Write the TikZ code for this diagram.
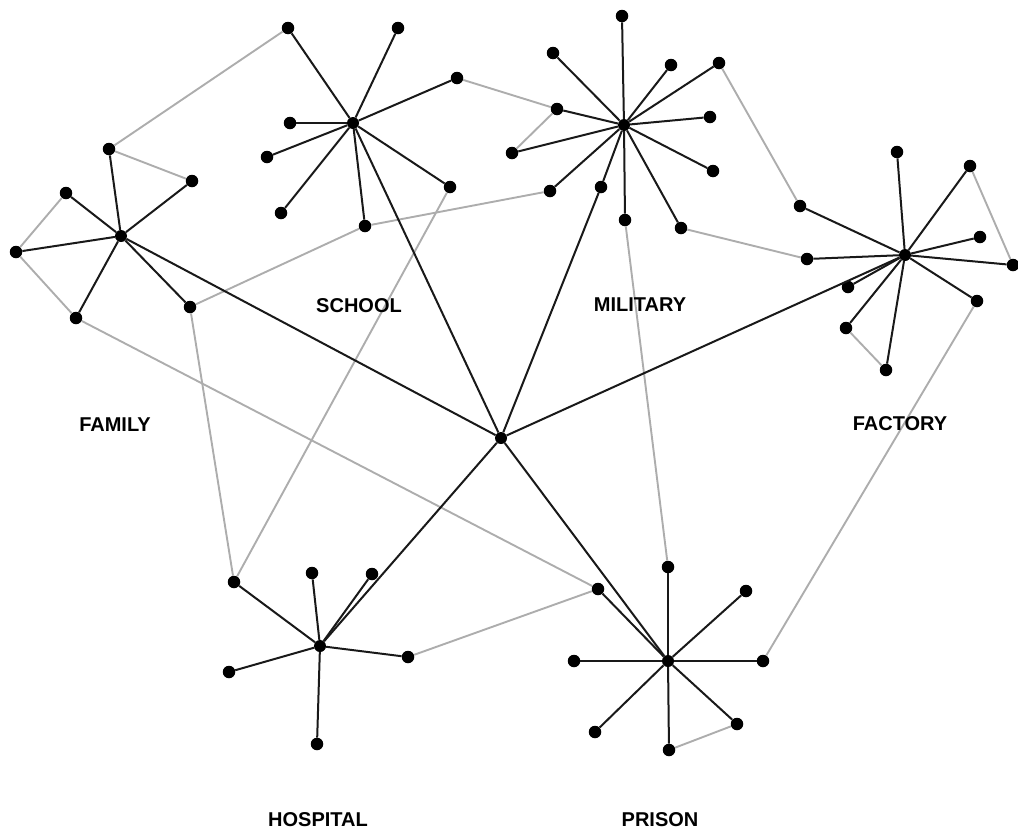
\documentclass[tikz,border=0pt]{standalone}
\usepackage{fontspec}
\setmainfont{Liberation Sans}
\begin{document}
\begin{tikzpicture}[x=1pt,y=-1pt,
 leafdot/.style={circle,fill=black,inner sep=0pt,minimum size=12.5pt},
 hubdot/.style={circle,fill=black,inner sep=0pt,minimum size=12pt},
 blk/.style={draw=black!90,line width=2pt},
 gry/.style={draw=black!32,line width=1.9pt},
 lbl/.style={font=\bfseries\fontsize{20}{24}\selectfont,inner sep=0pt}]
\useasboundingbox (0,0) rectangle (1018,833);
% centre
\node[hubdot] (C) at (501,438) {};
% family
\node[hubdot] (F) at (121,236) {};
\node[leafdot] (f1) at (109,149) {};
\node[leafdot] (f2) at (192,181) {};
\node[leafdot] (f3) at (66,193) {};
\node[leafdot] (f4) at (16,252) {};
\node[leafdot] (f5) at (76,318) {};
\node[leafdot] (f6) at (190,307) {};
% school
\node[hubdot] (S) at (353,123) {};
\node[leafdot] (s1) at (288,28) {};
\node[leafdot] (s2) at (398,28) {};
\node[leafdot] (s3) at (457,78) {};
\node[leafdot] (s4) at (290,123) {};
\node[leafdot] (s5) at (267,157) {};
\node[leafdot] (s6) at (281,213) {};
\node[leafdot] (s7) at (365,226) {};
\node[leafdot] (s8) at (450,187) {};
% military
\node[hubdot] (M) at (624,125) {};
\node[leafdot] (m1) at (622,16) {};
\node[leafdot] (m2) at (553,53) {};
\node[leafdot] (m3) at (671,65) {};
\node[leafdot] (m4) at (719,63) {};
\node[leafdot] (m5) at (557,109) {};
\node[leafdot] (m6) at (710,117) {};
\node[leafdot] (m7) at (512,153) {};
\node[leafdot] (m8) at (713,171) {};
\node[leafdot] (m9) at (550,191) {};
\node[leafdot] (m10) at (601,187) {};
\node[leafdot] (m11) at (625,220) {};
\node[leafdot] (m12) at (681,228) {};
% factory
\node[hubdot] (P) at (905,255) {};
\node[leafdot] (p1) at (897,152) {};
\node[leafdot] (p2) at (970,166) {};
\node[leafdot] (p3) at (800,206) {};
\node[leafdot] (p4) at (980,237) {};
\node[leafdot] (p5) at (807,259) {};
\node[leafdot] (p6) at (1013,265) {};
\node[leafdot] (p7) at (848,287) {};
\node[leafdot] (p8) at (977,301) {};
\node[leafdot] (p9) at (846,328) {};
\node[leafdot] (p10) at (886,370) {};
% hospital
\node[hubdot] (H) at (320,646) {};
\node[leafdot] (h1) at (234,582) {};
\node[leafdot] (h2) at (312,573) {};
\node[leafdot] (h3) at (372,574) {};
\node[leafdot] (h4) at (408,657) {};
\node[leafdot] (h5) at (229,672) {};
\node[leafdot] (h6) at (317,744) {};
% prison
\node[hubdot] (R) at (668,661) {};
\node[leafdot] (r1) at (668,567) {};
\node[leafdot] (r2) at (746,591) {};
\node[leafdot] (r3) at (598,589) {};
\node[leafdot] (r4) at (574,661) {};
\node[leafdot] (r5) at (763,661) {};
\node[leafdot] (r6) at (595,732) {};
\node[leafdot] (r7) at (737,724) {};
\node[leafdot] (r8) at (669,750) {};
% grey links
\path[gry] (f1) -- (s1);
\path[gry] (f1) -- (f2);
\path[gry] (f3) -- (f4);
\path[gry] (f4) -- (f5);
\path[gry] (f5) -- (r3);
\path[gry] (f6) -- (s7);
\path[gry] (f6) -- (h1);
\path[gry] (s7) -- (m9);
\path[gry] (s3) -- (m5);
\path[gry] (m5) -- (m7);
\path[gry] (s8) -- (h1);
\path[gry] (m4) -- (p3);
\path[gry] (m12) -- (p5);
\path[gry] (m11) -- (r1);
\path[gry] (p2) -- (p6);
\path[gry] (p9) -- (p10);
\path[gry] (p8) -- (r5);
\path[gry] (h4) -- (r3);
\path[gry] (r7) -- (r8);
% black spokes
\foreach \l in {f1,f2,f3,f4,f5,f6} \path[blk] (F) -- (\l);
\foreach \l in {s1,s2,s3,s4,s5,s6,s7,s8} \path[blk] (S) -- (\l);
\foreach \l in {m1,m2,m3,m4,m5,m6,m7,m8,m9,m10,m11,m12} \path[blk] (M) -- (\l);
\foreach \l in {p1,p2,p3,p4,p5,p6,p7,p8,p9,p10} \path[blk] (P) -- (\l);
\foreach \l in {h1,h2,h3,h4,h5,h6} \path[blk] (H) -- (\l);
\foreach \l in {r1,r2,r3,r4,r5,r6,r7,r8} \path[blk] (R) -- (\l);
\path[blk] (C) -- (F);
\path[blk] (C) -- (S);
\path[blk] (C) -- (m10);
\path[blk] (C) -- (P);
\path[blk] (C) -- (H);
\path[blk] (C) -- (R);
% labels
\node[lbl] (tschool) at (359,306) {SCHOOL};
\node[lbl] (tmil) at (640,305) {MILITARY};
\node[lbl] (tfam) at (115,425) {FAMILY};
\node[lbl] (tfac) at (900,424) {FACTORY};
\node[lbl] (thosp) at (318,820) {HOSPITAL};
\node[lbl] (tpris) at (660,820) {PRISON};
\end{tikzpicture}
\end{document}
